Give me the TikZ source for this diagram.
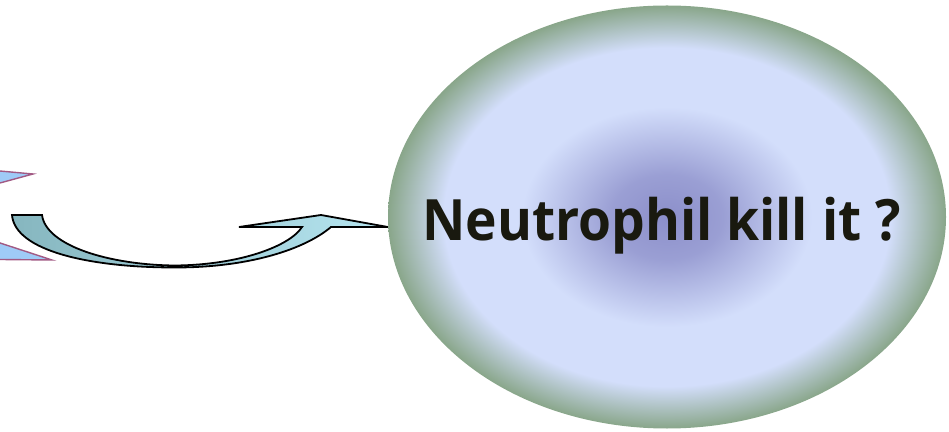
\documentclass[tikz,border=0pt]{standalone}
\usepackage{fontspec}
\setmainfont{Open Sans}
\usetikzlibrary{positioning, shapes.geometric, calc}
\definecolor{celledge}{HTML}{89A68A}
\definecolor{cellmid}{HTML}{D3DEFB}
\definecolor{cellcore}{HTML}{8C8FCA}
\definecolor{arrowdark}{HTML}{86B6BF}
\definecolor{arrowlight}{HTML}{B6E5F0}
\definecolor{burstfill}{HTML}{9FCBF7}
\definecolor{burstline}{HTML}{A25A84}
\definecolor{inktext}{HTML}{19190F}
\pgfdeclareradialshading{cellshade}{\pgfpoint{0bp}{0bp}}{%
  color(0bp)=(cellcore); color(5bp)=(cellcore!80!cellmid);
  color(13bp)=(cellmid); color(20bp)=(cellmid);
  color(25bp)=(celledge); color(50bp)=(celledge)}
\tikzset{
  cell/.style={ellipse, minimum width=558pt, minimum height=423pt, inner sep=0pt, shading=cellshade},
  question/.style={font=\fontsize{57}{60}\selectfont\bfseries, text=inktext, inner sep=0pt},
  uarrow/.style={draw=black, line width=1.8pt, line join=miter, left color=arrowdark, right color=arrowlight},
  burst/.style={draw=burstline, line width=1.4pt, fill=burstfill}
}

\begin{document}
\begin{tikzpicture}[x=1pt, y=1pt]
\useasboundingbox (0,0) rectangle (949,431);
% the cell and its question
\node[cell] (cell) at (667,214) {};
\node[question, anchor=base] (ask) at ($(cell.center)+(-5.5,-24)$) {\scalebox{0.935}[1]{Neutrophil kill it ?}};
% spikes of the burst, cut by the left edge
\path[burst] (-10,260.9) -- (33,257) -- (-10,245.3);
\path[burst] (-10,191.3) -- (52,171) -- (-10,171.6);
% curved block arrow into the cell
\coordinate (tail) at (12,216);
\coordinate (tip) at ($(cell.west)+(0,-10)$);
\path[uarrow] (tail) -- (42,216)
  .. controls (46,185) and (110,166) .. (175,165.5)
  .. controls (240,166) and (290,185) .. (302,204)
  -- (239,204) -- (321,216) -- (tip) -- (331,204)
  .. controls (305,182) and (250,163.5) .. (175,163.5)
  .. controls (90,163.5) and (15,180) .. (tail) -- cycle;
\end{tikzpicture}
\end{document}
